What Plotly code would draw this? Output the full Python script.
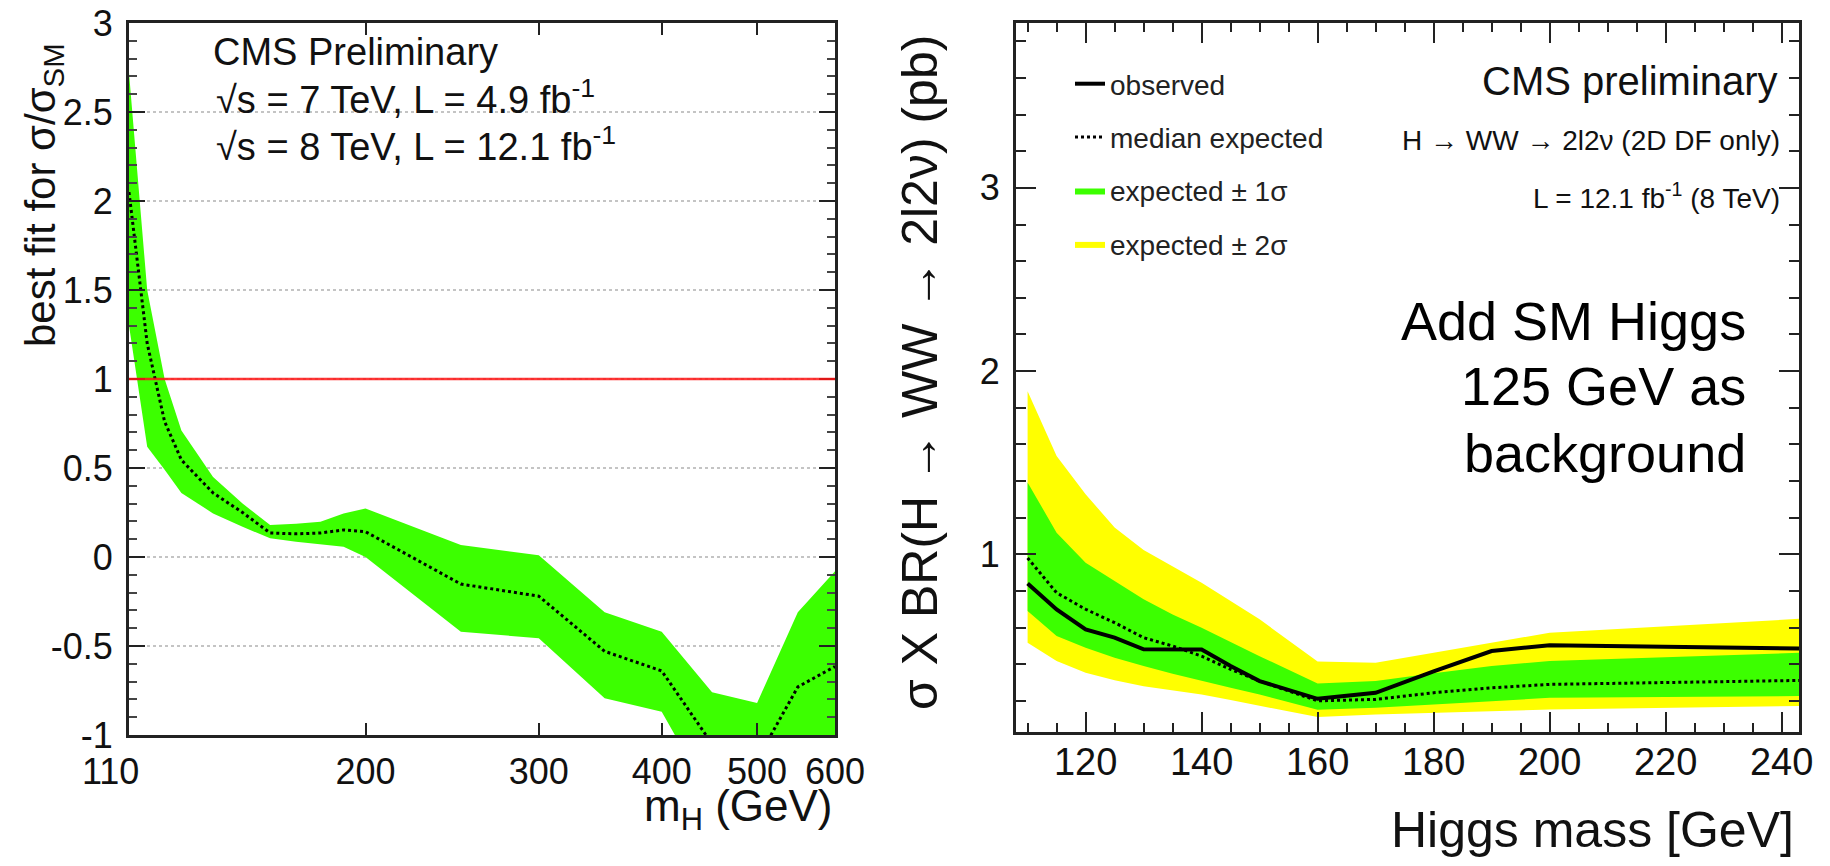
import math
import plotly.graph_objects as go

W, H = 1830, 866
FONT = "Liberation Sans, Arial, Helvetica, sans-serif"

# ---------------- left panel: best-fit sigma/sigma_SM vs m_H ----------------
mass_fit = [115, 120, 125, 130, 140, 150, 160, 170, 180, 190, 200,
            250, 300, 350, 400, 450, 500, 550, 600]
mu_best = [2.05, 1.20, 0.76, 0.545, 0.36, 0.25, 0.135, 0.13, 0.135, 0.152, 0.142,
           -0.152, -0.22, -0.53, -0.64, -1.05, -1.14, -0.73, -0.615]
mu_hi = [2.72, 1.50, 1.00, 0.71, 0.45, 0.30, 0.18, 0.187, 0.198, 0.245, 0.273,
         0.067, 0.01, -0.31, -0.42, -0.76, -0.82, -0.31, -0.08]
mu_lo = [1.30, 0.62, 0.49, 0.36, 0.245, 0.17, 0.105, 0.085, 0.07, 0.058, 0.0,
         -0.42, -0.456, -0.794, -0.869, -1.37, -1.50, -1.30, -1.20]
fit_yticks = [-1, -0.5, 0, 0.5, 1, 1.5, 2, 2.5, 3]
fit_yticklabels = ["-1", "-0.5", "0", "0.5", "1", "1.5", "2", "2.5", "3"]
fit_xticks = [200, 300, 400, 500, 600]

# ---------------- right panel: cross-section limit, H -> WW -> 2l2nu ----------------
mass_lim = [110, 115, 120, 125, 130, 135, 140, 145, 150, 160, 170, 180, 190, 200, 250]
observed = [0.841, 0.699, 0.59, 0.545, 0.481, 0.478, 0.48, 0.39, 0.308, 0.211,
            0.244, 0.361, 0.472, 0.504, 0.483]
exp_median = [0.98, 0.79, 0.70, 0.627, 0.545, 0.499, 0.444, 0.372, 0.308, 0.20,
              0.208, 0.244, 0.271, 0.29, 0.315]
exp_p1 = [1.392, 1.118, 0.954, 0.854, 0.754, 0.672, 0.599, 0.521, 0.444, 0.295,
          0.308, 0.35, 0.39, 0.417, 0.47]
exp_m1 = [0.69, 0.554, 0.49, 0.435, 0.39, 0.348, 0.308, 0.271, 0.235, 0.152,
          0.162, 0.18, 0.198, 0.217, 0.228]
exp_p2 = [1.89, 1.537, 1.328, 1.146, 1.024, 0.936, 0.845, 0.745, 0.645, 0.415,
          0.408, 0.462, 0.517, 0.572, 0.66]
exp_m2 = [0.517, 0.417, 0.353, 0.313, 0.28, 0.257, 0.235, 0.204, 0.171, 0.112,
          0.126, 0.135, 0.144, 0.153, 0.175]
lim_xticks = [120, 140, 160, 180, 200, 220, 240]
lim_yticks = [1, 2, 3]

GREEN = "#3cff00"
YELLOW = "#ffff00"
FRAME = "#222222"


def px(x):
    return x / W


def py(y):
    return 1 - y / H


# plot frames (pixel boxes turned into paper fractions)
L_X0, L_X1, L_Y0, L_Y1 = 129, 835, 23, 735
R_X0, R_X1, R_Y0, R_Y1 = 1016, 1799, 23, 732
FIT_XRANGE = (115, 600)

fig = go.Figure()

# left: green 1-sigma band and dotted best fit
fig.add_trace(go.Scatter(
    x=mass_fit + mass_fit[::-1], y=mu_hi + mu_lo[::-1],
    fill="toself", fillcolor=GREEN, line=dict(width=0, color=GREEN),
    mode="lines", showlegend=False, hoverinfo="skip", xaxis="x", yaxis="y"))
fig.add_trace(go.Scatter(
    x=mass_fit, y=mu_best, mode="lines",
    line=dict(color="black", width=3, dash="dot"),
    showlegend=False, xaxis="x", yaxis="y"))

# right: yellow / green expected bands, median expected, observed
fig.add_trace(go.Scatter(
    x=mass_lim + mass_lim[::-1], y=exp_p2 + exp_m2[::-1],
    fill="toself", fillcolor=YELLOW, line=dict(width=0, color=YELLOW),
    mode="lines", name="expected ± 2σ", legendgroup="e2", legendrank=4,
    hoverinfo="skip", xaxis="x2", yaxis="y2"))
fig.add_trace(go.Scatter(
    x=mass_lim + mass_lim[::-1], y=exp_p1 + exp_m1[::-1],
    fill="toself", fillcolor=GREEN, line=dict(width=0, color=GREEN),
    mode="lines", name="expected ± 1σ", legendgroup="e1", legendrank=3,
    hoverinfo="skip", xaxis="x2", yaxis="y2"))
fig.add_trace(go.Scatter(
    x=mass_lim, y=exp_median, mode="lines",
    line=dict(color="black", width=3, dash="dot"),
    name="median expected", legendgroup="med", legendrank=2,
    xaxis="x2", yaxis="y2"))
fig.add_trace(go.Scatter(
    x=mass_lim, y=observed, mode="lines",
    line=dict(color="black", width=4),
    name="observed", legendgroup="obs", legendrank=1,
    xaxis="x2", yaxis="y2"))

common_axis = dict(
    showline=True, linecolor=FRAME, linewidth=3, mirror="ticks",
    ticks="inside", tickcolor=FRAME, tickwidth=2, zeroline=False,
    automargin=False,
)

fig.update_layout(
    width=W, height=H, autosize=False,
    margin=dict(l=0, r=0, t=0, b=0, pad=0, autoexpand=False),
    paper_bgcolor="white", plot_bgcolor="white",
    font=dict(family=FONT, color="#111111"),
    xaxis=dict(
        common_axis, type="log", domain=[px(L_X0), px(L_X1)],
        range=[math.log10(FIT_XRANGE[0]), math.log10(FIT_XRANGE[1])],
        tickvals=fit_xticks, ticktext=[str(v) for v in fit_xticks],
        ticklen=12, showgrid=False, anchor="y",
        tickfont=dict(size=36), ticklabelstandoff=3,
    ),
    yaxis=dict(
        common_axis, domain=[py(L_Y1), py(L_Y0)], range=[-1, 3],
        tickvals=fit_yticks, ticktext=fit_yticklabels, ticklen=16,
        showgrid=True, gridcolor="#c4c4c4", griddash="dot", gridwidth=2,
        minor=dict(dtick=0.1, ticklen=8, ticks="inside", tickcolor="#444444",
                   tickwidth=2, showgrid=False),
        anchor="x", tickfont=dict(size=36), ticklabelstandoff=6,
    ),
    xaxis2=dict(
        common_axis, domain=[px(R_X0), px(R_X1)], range=[108, 243],
        tickvals=lim_xticks, ticktext=[str(v) for v in lim_xticks],
        ticklen=20, showgrid=False, anchor="y2",
        minor=dict(dtick=5, ticklen=9, ticks="inside", tickcolor=FRAME,
                   tickwidth=2, showgrid=False),
        tickfont=dict(size=38), ticklabelstandoff=-6,
    ),
    yaxis2=dict(
        common_axis, domain=[py(R_Y1), py(R_Y0)], range=[0.03, 3.9],
        tickvals=lim_yticks, ticktext=[str(v) for v in lim_yticks],
        ticklen=20, showgrid=False, anchor="x2",
        minor=dict(dtick=0.2, ticklen=10, ticks="inside", tickcolor=FRAME,
                   tickwidth=2, showgrid=False),
        tickfont=dict(size=36), ticklabelstandoff=6,
    ),
    legend=dict(
        x=px(1070), y=py(59), xanchor="left", yanchor="top",
        font=dict(size=28, family=FONT, color="#222222"),
        bgcolor="rgba(0,0,0,0)", tracegroupgap=14, itemwidth=30,
    ),
)

# SM expectation line at sigma/sigma_SM = 1
fig.add_shape(type="line", xref="x domain", yref="y", x0=0, x1=1, y0=1, y1=1,
              line=dict(color="rgba(255,20,20,0.85)", width=2.5), layer="above")


def note(text, x, y, size, xanchor="left", yanchor="middle", angle=0, color="#111111"):
    fig.add_annotation(text=text, x=px(x), y=py(y), xref="paper", yref="paper",
                       xanchor=xanchor, yanchor=yanchor, showarrow=False,
                       textangle=angle, font=dict(size=size, family=FONT, color=color))


# lowest mass label of the log axis, placed through the axis' own log mapping
lo, hi = math.log10(FIT_XRANGE[0]), math.log10(FIT_XRANGE[1])
x110 = L_X0 + (math.log10(110) - lo) / (hi - lo) * (L_X1 - L_X0)
note("110", x110, 771, 36, xanchor="center")

# left panel texts
note("CMS Preliminary", 211, 52, 38)
note("√s = 7 TeV, L = 4.9 fb<sup>-1</sup>", 214, 97, 38)
note("√s = 8 TeV, L = 12.1 fb<sup>-1</sup>", 214, 144, 38)
note("m<sub>H</sub> (GeV)", 834, 809, 44, xanchor="right")
note("best fit for σ/σ<sub>SM</sub>", 43, 195, 42, xanchor="center", angle=-90)

# right panel texts
note("CMS preliminary", 1780, 81, 40, xanchor="right")
note("H → WW → 2l2ν (2D DF only)", 1782, 141, 28, xanchor="right")
note("L = 12.1 fb<sup>-1</sup> (8 TeV)", 1782, 196, 28, xanchor="right")
note("Add SM Higgs", 1748, 321, 54, xanchor="right", color="black")
note("125 GeV as", 1748, 386, 54, xanchor="right", color="black")
note("background", 1748, 453, 54, xanchor="right", color="black")
note("Higgs mass [GeV]", 1796, 830, 50, xanchor="right")
note("σ X BR(H → WW → 2l2ν) (pb)", 920, 373, 50, xanchor="center", angle=-90)

fig.write_html("out.html")
